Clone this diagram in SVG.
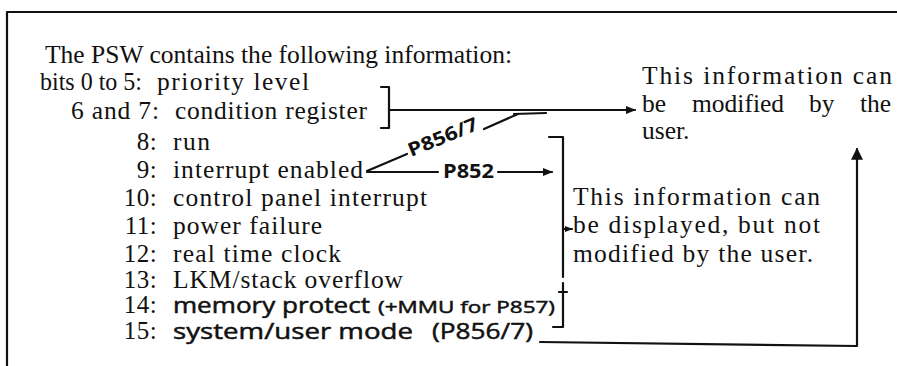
<svg xmlns="http://www.w3.org/2000/svg" width="897" height="366" viewBox="0 0 897 366">
<style>
.t{font-family:"Liberation Serif","Times New Roman",serif;font-size:25.5px;fill:#111}
.n{font-family:"Liberation Serif","Times New Roman",serif;font-size:25px;fill:#111;letter-spacing:0.4px;text-anchor:end}
.h{font-family:"Open Sans","DejaVu Sans",sans-serif;font-size:21px;font-weight:400;fill:#111;stroke:#111;stroke-width:0.5}
.hl{font-family:"Open Sans","DejaVu Sans",sans-serif;font-size:22px;font-weight:400;fill:#111;stroke:#111;stroke-width:0.5}
.hs{font-family:"Open Sans","DejaVu Sans",sans-serif;font-size:17px;font-weight:400;fill:#111;stroke:#111;stroke-width:0.5}
.hb{font-family:"Open Sans","DejaVu Sans",sans-serif;font-size:19px;font-weight:700;fill:#111}
.ln{fill:none;stroke:#111;stroke-width:2.2;stroke-linecap:round;stroke-linejoin:round}
</style>
<defs>
<marker id="ah" viewBox="0 0 10 10" refX="9" refY="5" markerWidth="10" markerHeight="10" markerUnits="userSpaceOnUse" orient="auto">
<path d="M0,1 L10,5 L0,9 z" fill="#111"/>
</marker>
<marker id="ahs" viewBox="0 0 10 10" refX="9" refY="5" markerWidth="8" markerHeight="8" markerUnits="userSpaceOnUse" orient="auto">
<path d="M0,1 L10,5 L0,9 z" fill="#111"/>
</marker>
<marker id="ahb" viewBox="0 0 10 10" refX="9" refY="5" markerWidth="13" markerHeight="12" markerUnits="userSpaceOnUse" orient="auto">
<path d="M0,0 L10,5 L0,10 z" fill="#111"/>
</marker>
</defs>
<rect width="897" height="366" fill="#fff"/>
<g id="frame">
<path class="ln" d="M7,366 V12 H897" stroke-width="2.5"/>
</g>
<g id="psw-list">
<text class="t" x="45" y="63" textLength="467" lengthAdjust="spacing">The PSW contains the following information:</text>
<text class="t" x="40" y="90" textLength="102" lengthAdjust="spacingAndGlyphs">bits 0 to 5:</text>
<text class="t" x="157" y="90" textLength="152" lengthAdjust="spacing">priority level</text>
<text class="t" x="71" y="119" textLength="88" lengthAdjust="spacing">6 and 7:</text>
<text class="t" x="175" y="119" textLength="192" lengthAdjust="spacing">condition register</text>
<text class="n" x="157" y="150">8:</text>
<text class="t" x="173" y="150" textLength="37" lengthAdjust="spacing">run</text>
<text class="n" x="157" y="178">9:</text>
<text class="t" x="173" y="178" textLength="190" lengthAdjust="spacing">interrupt enabled</text>
<text class="n" x="157" y="206">10:</text>
<text class="t" x="173" y="206" textLength="254" lengthAdjust="spacing">control panel interrupt</text>
<text class="n" x="157" y="234">11:</text>
<text class="t" x="173" y="234" textLength="149" lengthAdjust="spacing">power failure</text>
<text class="n" x="157" y="262">12:</text>
<text class="t" x="173" y="262" textLength="168" lengthAdjust="spacing">real time clock</text>
<text class="n" x="157" y="288">13:</text>
<text class="t" x="173" y="288" textLength="230" lengthAdjust="spacing">LKM/stack overflow</text>
<text class="n" x="157" y="313">14:</text>
<text class="h" x="173" y="313" textLength="197" lengthAdjust="spacingAndGlyphs">memory protect</text>
<text class="hs" x="378" y="313" textLength="177" lengthAdjust="spacingAndGlyphs">(+MMU for P857)</text>
<text class="n" x="157" y="339">15:</text>
<text class="hl" x="173" y="339" textLength="240" lengthAdjust="spacingAndGlyphs">system/user mode</text>
<text class="hl" x="432" y="339" textLength="101" lengthAdjust="spacingAndGlyphs">(P856/7)</text>
</g>
<g id="modifiable-note">
<text class="t" x="642" y="84" textLength="250" lengthAdjust="spacing">This information can</text>
<text class="t" y="112"><tspan x="642">be</tspan><tspan x="692">modified</tspan><tspan x="809">by</tspan><tspan x="860">the</tspan></text>
<text class="t" x="642" y="139">user.</text>
</g>
<g id="display-note">
<text class="t" x="573" y="205" textLength="247" lengthAdjust="spacing">This information can</text>
<text class="t" x="573" y="233" textLength="247" lengthAdjust="spacing">be displayed, but not</text>
<text class="t" x="573" y="262" textLength="240" lengthAdjust="spacing">modified by the user.</text>
</g>
<g id="labels">
<text class="hb" x="0" y="0" transform="translate(411,157) rotate(-22)" textLength="74" lengthAdjust="spacingAndGlyphs">P856/7</text>
<text class="hb" x="443" y="178" textLength="51" lengthAdjust="spacingAndGlyphs">P852</text>
</g>
<g id="connectors">
<path class="ln" d="M381,87 H389 V128 H381"/>
<path class="ln" d="M389,110 H635" marker-end="url(#ah)"/>
<path class="ln" d="M367,171 L407,154"/>
<path class="ln" d="M484,129 L518,114"/>
<path class="ln" d="M514,114 L546,113" stroke-width="3.5"/>
<path class="ln" d="M367,172 H438"/>
<path class="ln" d="M498,172 H552" marker-end="url(#ah)"/>
<path class="ln" d="M549,137 H563 V277"/>
<path class="ln" d="M563,283 V327 H553"/>
<path class="ln" d="M559,292 H567" stroke-width="1.6"/>
<path class="ln" d="M563,229 H572" stroke-width="1.6" marker-end="url(#ahs)"/>
<path class="ln" d="M540,342 L857,346 V149" marker-end="url(#ahb)"/>
</g>
</svg>
